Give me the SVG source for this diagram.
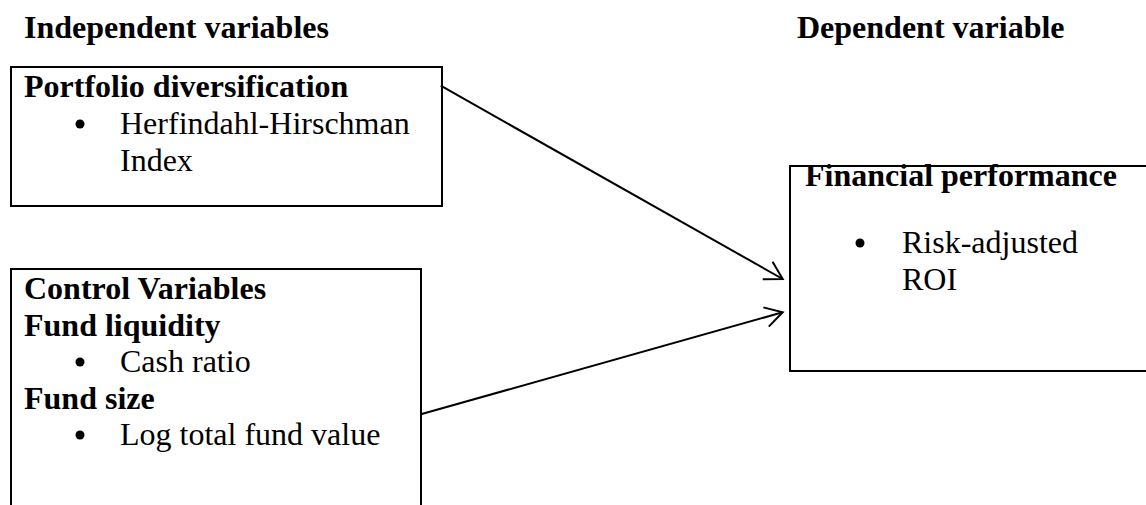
<svg xmlns="http://www.w3.org/2000/svg" width="1146" height="505" viewBox="0 0 1146 505">
<style>
.box{fill:#fff;stroke:#000;stroke-width:2}
.t{font-family:"Liberation Serif","Times New Roman",serif;font-size:32px;fill:#000}
.b{font-weight:bold}
.conn{stroke:#000;stroke-width:2;fill:none}
</style>
<defs>
<marker id="arr" markerUnits="userSpaceOnUse" markerWidth="40" markerHeight="40" refX="0" refY="0" orient="auto" overflow="visible">
<path d="M-17.3,-10 L0,0 L-17.3,10" fill="none" stroke="#000" stroke-width="2"/>
</marker>
</defs>
<rect width="1146" height="505" fill="#fff"/>
<text class="t b" x="24" y="38">Independent variables</text>
<text class="t b" x="797" y="38">Dependent variable</text>
<g id="portfolio">
<rect class="box" x="11" y="67" width="431" height="139"/>
<text class="t b" x="24" y="97">Portfolio diversification</text>
<circle cx="80" cy="124" r="4.5"/>
<text class="t" x="120" y="134">Herfindahl-Hirschman</text>
<text class="t" x="120" y="171">Index</text>
</g>
<g id="controls">
<rect class="box" x="11" y="269" width="410" height="260"/>
<text class="t b" x="24" y="299">Control Variables</text>
<text class="t b" x="24" y="335.5">Fund liquidity</text>
<circle cx="80" cy="362" r="4.5"/>
<text class="t" x="120" y="372">Cash ratio</text>
<text class="t b" x="24" y="408.5">Fund size</text>
<circle cx="80" cy="435" r="4.5"/>
<text class="t" x="120" y="445">Log total fund value</text>
</g>
<g id="performance">
<rect class="box" x="790" y="166" width="370" height="205"/>
<text class="t b" x="805" y="186">Financial performance</text>
<circle cx="860" cy="243" r="4.5"/>
<text class="t" x="902" y="253">Risk-adjusted</text>
<text class="t" x="902" y="290">ROI</text>
</g>
<g id="connectors">
<line class="conn" x1="440.7" y1="85.7" x2="782.7" y2="279" marker-end="url(#arr)"/>
<line class="conn" x1="421.7" y1="414" x2="782.7" y2="312.3" marker-end="url(#arr)"/>
</g>
</svg>
